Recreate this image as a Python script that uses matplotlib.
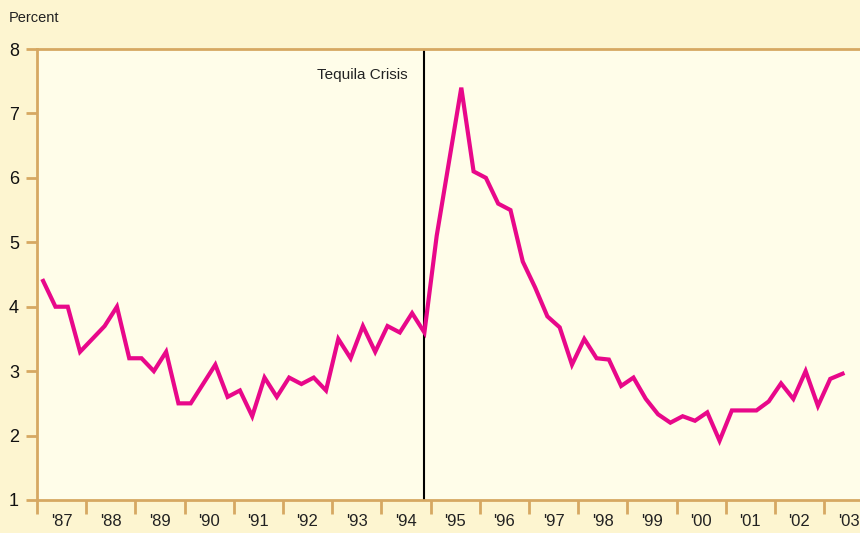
import matplotlib.pyplot as plt
from matplotlib.ticker import FixedLocator, NullFormatter

plt.rcParams['font.family'] = ['Liberation Sans Narrow', 'DejaVu Sans Condensed', 'Liberation Sans', 'DejaVu Sans']

# quarterly values, 1987 Q1 .. 2003 Q2
values = [
    4.4, 4.0, 4.0, 3.3,      # 1987
    3.5, 3.7, 4.0, 3.2,      # 1988
    3.2, 3.0, 3.3, 2.5,      # 1989
    2.5, 2.8, 3.1, 2.6,      # 1990
    2.7, 2.3, 2.9, 2.6,      # 1991
    2.9, 2.8, 2.9, 2.7,      # 1992
    3.5, 3.2, 3.7, 3.3,      # 1993
    3.7, 3.6, 3.9, 3.6,      # 1994
    5.1, 6.25, 7.4, 6.1,     # 1995
    6.0, 5.6, 5.5, 4.7,      # 1996
    4.3, 3.85, 3.68, 3.1,    # 1997
    3.5, 3.2, 3.18, 2.77,    # 1998
    2.9, 2.57, 2.33, 2.2,    # 1999
    2.3, 2.23, 2.36, 1.92,   # 2000
    2.39, 2.39, 2.39, 2.53,  # 2001
    2.81, 2.57, 3.0, 2.46,   # 2002
    2.88, 2.96,              # 2003
]
start_year = 1987
years = list(range(1987, 2004))
year_labels = ["'" + str(y)[2:] for y in years]
crisis_x = 1994.875
crisis_label = "Tequila Crisis"

t = [start_year + (i + 0.5) / 4 for i in range(len(values))]

spine = '#d6a862'
fig = plt.figure(figsize=(8.6, 5.33), dpi=100, facecolor='#fdf5d0')
ax = fig.add_axes([37 / 860, 1 - 500 / 533, 1 - 37 / 860, 451 / 533])
ax.set_facecolor('#fffde9')

ax.plot(t, values, color='#e8088a', lw=3, solid_joinstyle='miter', zorder=3)
ax.axvline(crisis_x, color='black', lw=1.5, zorder=2)
ax.text(crisis_x - 0.35, 7.6, crisis_label, ha='right', va='center', fontsize=11, color='#222222')

ax.set_xlim(1987, 2003.73)
ax.set_ylim(1, 8)

ax.xaxis.set_major_locator(FixedLocator(years))
ax.xaxis.set_major_formatter(NullFormatter())
ax.xaxis.set_minor_locator(FixedLocator([y + 0.5 for y in years]))
ax.set_xticklabels(year_labels, minor=True)
ax.tick_params(axis='x', which='major', direction='out', length=10, width=2, color=spine)
ax.tick_params(axis='x', which='minor', length=0, pad=10, labelsize=12, labelcolor='#222222')

ax.set_yticks(range(1, 9))
ax.tick_params(axis='y', direction='out', length=8, width=2, color=spine, labelsize=13,
               labelcolor='#111111', pad=5)

for side in ['left', 'bottom', 'top']:
    ax.spines[side].set_color(spine)
    ax.spines[side].set_linewidth(2)
ax.spines['right'].set_visible(False)

fig.text(9 / 860, 1 - 18 / 533, 'Percent', ha='left', va='center', fontsize=10.5, color='#222222')

fig.savefig('out.png', dpi=100, facecolor=fig.get_facecolor())
